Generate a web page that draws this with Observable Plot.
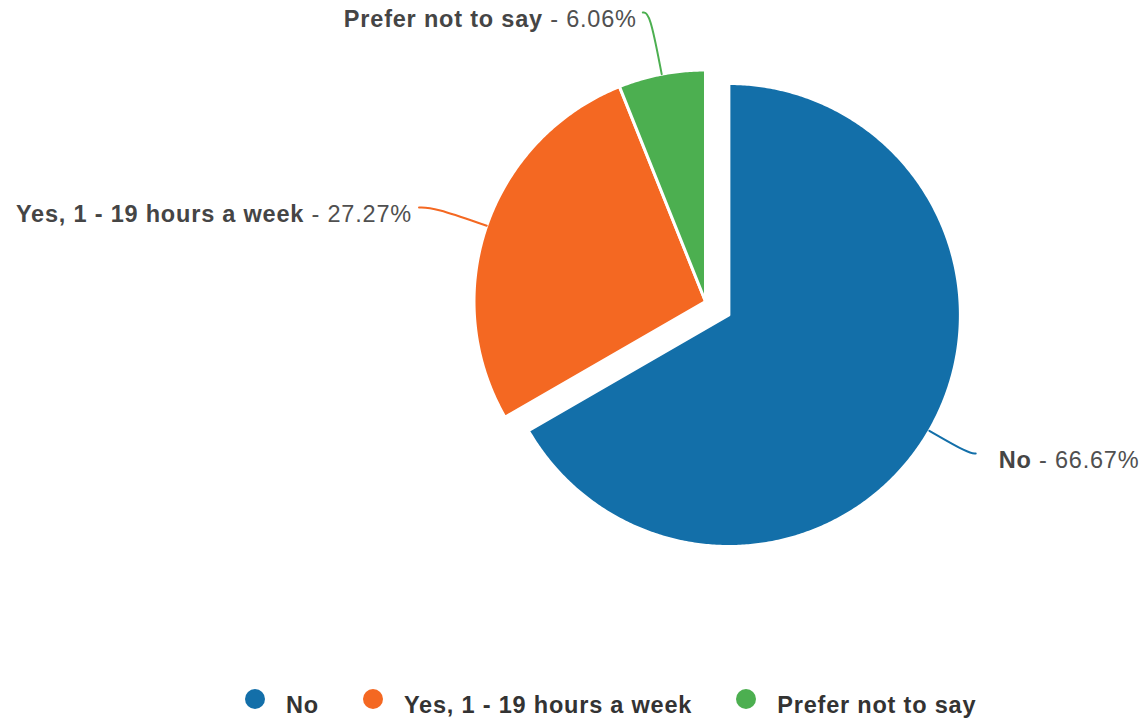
<!DOCTYPE html>
<html>
<head>
<meta charset="utf-8">
<script src="https://cdn.jsdelivr.net/npm/d3@7"></script>
<script src="https://cdn.jsdelivr.net/npm/@observablehq/plot@0.6"></script>
<style>
  body { margin: 0; background: #fff; font-family: "Liberation Sans", Arial, sans-serif; }
  #legend { display: flex; align-items: center; height: 40px; padding-left: 245px; padding-top: 10px; box-sizing: border-box; }
  .item { display: flex; align-items: center; margin-right: 44px; }
  .sw { width: 20px; height: 20px; border-radius: 50%; margin-right: 21px; position: relative; top: -6px; }
  .lt { font-weight: bold; font-size: 23.5px; letter-spacing: 0.8px; color: #333; line-height: 24px; }
</style>
</head>
<body>
<div id="chart"></div>
<div id="legend"></div>
<script>
// ---- data ----
const categories = ["No", "Yes, 1 - 19 hours a week", "Prefer not to say"];
const percents = [66.67, 27.27, 6.06];
const colors = ["#136fa9", "#f46822", "#4caf50"];

// ---- layout ----
const W = 1147, H = 680;
const cx = 705, cy = 301, R = 231.5;
const explode = [27, 0, 0];
const labelEndY = [453, 207, 12];
const hook = [7, 15, 7];
const labelGap = [23, 7, 6];

const total = d3.sum(percents);
let acc = 0;
const slices = categories.map((c, i) => {
  const a0 = acc / total * 2 * Math.PI;
  acc += percents[i];
  const a1 = acc / total * 2 * Math.PI;
  const mid = (a0 + a1) / 2;
  const ox = cx + explode[i] * Math.sin(mid);
  const oy = cy - explode[i] * Math.cos(mid);
  return {key: c, value: percents[i], a0, a1, mid, ox, oy, i};
});

// slice polygons
const polys = [];
for (const s of slices) {
  polys.push({key: s.key, x: s.ox, y: s.oy});
  const n = Math.max(2, Math.ceil((s.a1 - s.a0) / (Math.PI / 360)));
  for (let k = 0; k <= n; k++) {
    const a = s.a0 + (s.a1 - s.a0) * k / n;
    polys.push({key: s.key, x: s.ox + R * Math.sin(a), y: s.oy - R * Math.cos(a)});
  }
}

// leader lines and label anchors
const leaders = [];
const labels = [];
for (const s of slices) {
  const dx = Math.sin(s.mid), dy = -Math.cos(s.mid);
  const p0 = [s.ox + R * dx, s.oy + R * dy];
  const ly = labelEndY[s.i];
  const t = (ly - p0[1]) / dy;
  const corner = [p0[0] + t * dx, ly];
  const side = dx >= 0 ? 1 : -1;
  const end = [corner[0] + side * hook[s.i], ly];
  leaders.push({key: s.key, x: p0[0], y: p0[1]});
  leaders.push({key: s.key, x: corner[0], y: corner[1]});
  leaders.push({key: s.key, x: end[0], y: end[1]});
  labels.push({
    key: s.key,
    side,
    x: end[0] + side * labelGap[s.i],
    y: ly + 7,
    text: `${s.key} - ${s.value.toFixed(2)}%`
  });
}

const chart = Plot.plot({
  width: W,
  height: H,
  margin: 0,
  x: {domain: [0, W], range: [0, W], axis: null},
  y: {domain: [0, H], range: [0, H], axis: null},
  color: {domain: categories, range: colors},
  style: {fontFamily: "Liberation Sans, Arial, sans-serif", letterSpacing: "0.8px", background: "#fff"},
  marks: [
    Plot.line(polys, {x: "x", y: "y", z: "key", fill: "key", stroke: "white", strokeWidth: 3, curve: "linear-closed"}),
    Plot.line(leaders, {x: "x", y: "y", z: "key", stroke: "key", strokeWidth: 2, curve: "basis"}),
    Plot.text(labels.filter(d => d.side > 0), {x: "x", y: "y", text: "text", textAnchor: "start", fontSize: 23.5, fill: "#454545"}),
    Plot.text(labels.filter(d => d.side < 0), {x: "x", y: "y", text: "text", textAnchor: "end", fontSize: 23.5, fill: "#454545"})
  ]
});

// split labels into bold name + normal value
d3.select(chart).selectAll("text").each(function() {
  const t = this.textContent;
  const idx = t.lastIndexOf(" - ");
  if (idx < 0 || !t.endsWith("%")) return;
  const el = d3.select(this);
  el.text("");
  el.append("tspan").attr("font-weight", "bold").text(t.slice(0, idx));
  el.append("tspan").attr("font-weight", "normal").attr("fill", "#505050").text(t.slice(idx));
});

document.getElementById("chart").appendChild(chart);

// legend
const legend = d3.select("#legend");
categories.forEach((c, i) => {
  const it = legend.append("div").attr("class", "item");
  it.append("div").attr("class", "sw").style("background", colors[i]);
  it.append("div").attr("class", "lt").text(c);
});
</script>
</body>
</html>
